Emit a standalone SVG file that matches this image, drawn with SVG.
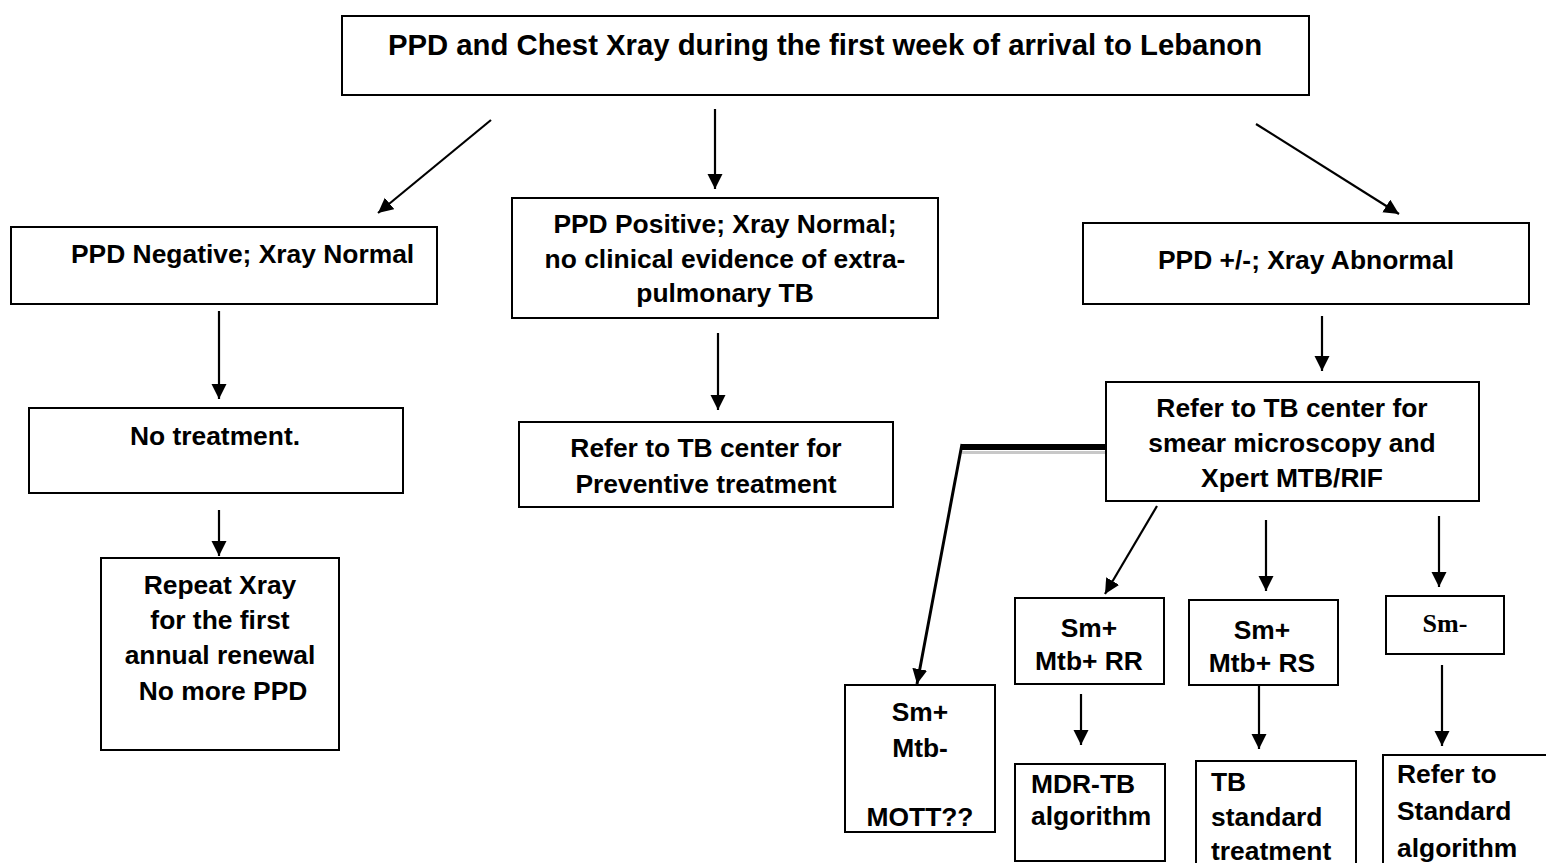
<svg xmlns="http://www.w3.org/2000/svg" width="1546" height="863" viewBox="0 0 1546 863">
<style>
.box{fill:#fff;stroke:#000;stroke-width:2}
.t{font-family:"Liberation Sans",Arial,sans-serif;font-weight:bold;font-size:26.4px;fill:#000}
.c{text-anchor:middle}
.ser{font-family:"Liberation Serif","Times New Roman",serif;font-weight:bold;font-size:26px;fill:#000;text-anchor:middle}
.ar{stroke:#000;stroke-width:2.2;fill:none;marker-end:url(#ah)}
</style>
<defs>
<marker id="ah" markerUnits="userSpaceOnUse" markerWidth="16" markerHeight="16" refX="15" refY="7.5" orient="auto">
<path d="M0,0 L15,7.5 L0,15 z" fill="#000"/>
</marker>
</defs>
<rect width="1546" height="863" fill="#fff"/>

<g id="connectors">
<line class="ar" x1="491" y1="120" x2="378" y2="213"/>
<line class="ar" x1="715" y1="109" x2="715" y2="189"/>
<line class="ar" x1="1256" y1="124" x2="1399" y2="214"/>
<line class="ar" x1="219" y1="311" x2="219" y2="399"/>
<line class="ar" x1="718" y1="333" x2="718" y2="410"/>
<line class="ar" x1="1322" y1="316" x2="1322" y2="371"/>
<line class="ar" x1="219" y1="510" x2="219" y2="556"/>
<line class="ar" x1="1157" y1="506" x2="1105" y2="594"/>
<line class="ar" x1="1266" y1="520" x2="1266" y2="591"/>
<line class="ar" x1="1439" y1="516" x2="1439" y2="587"/>
<line class="ar" x1="1081" y1="694" x2="1081" y2="745"/>
<line class="ar" x1="1259" y1="685" x2="1259" y2="749"/>
<line class="ar" x1="1442" y1="665" x2="1442" y2="746"/>
<line x1="962" y1="452.5" x2="1105" y2="452.5" stroke="#c8c8c8" stroke-width="3"/>
<line x1="961" y1="447" x2="1106" y2="447" stroke="#000" stroke-width="6"/>
<line class="ar" x1="962" y1="444" x2="917" y2="684" style="stroke-width:3"/>
</g>

<g id="n-top">
<rect class="box" x="342" y="16" width="967" height="79"/>
<text class="t c" x="825" y="55" style="font-size:29.3px">PPD and Chest Xray during the first week of arrival to Lebanon</text>
</g>

<g id="n-neg">
<rect class="box" x="11" y="227" width="426" height="77"/>
<text class="t" x="71" y="263">PPD Negative; Xray Normal</text>
</g>

<g id="n-pos">
<rect class="box" x="512" y="198" width="426" height="120"/>
<text class="t c" x="725" y="233">PPD Positive; Xray Normal;</text>
<text class="t c" x="725" y="268">no clinical evidence of extra-</text>
<text class="t c" x="725" y="302">pulmonary TB</text>
</g>

<g id="n-abn">
<rect class="box" x="1083" y="223" width="446" height="81"/>
<text class="t c" x="1306" y="269">PPD +/-; Xray Abnormal</text>
</g>

<g id="n-notreat">
<rect class="box" x="29" y="408" width="374" height="85"/>
<text class="t c" x="215" y="445">No treatment.</text>
</g>

<g id="n-prev">
<rect class="box" x="519" y="422" width="374" height="85"/>
<text class="t c" x="706" y="457">Refer to TB center for</text>
<text class="t c" x="706" y="493">Preventive treatment</text>
</g>

<g id="n-smear">
<rect class="box" x="1106" y="382" width="373" height="119"/>
<text class="t c" x="1292" y="417">Refer to TB center for</text>
<text class="t c" x="1292" y="452">smear microscopy and</text>
<text class="t c" x="1292" y="487">Xpert MTB/RIF</text>
</g>

<g id="n-repeat">
<rect class="box" x="101" y="558" width="238" height="192"/>
<text class="t c" x="220" y="594">Repeat Xray</text>
<text class="t c" x="220" y="629">for the first</text>
<text class="t c" x="220" y="664">annual renewal</text>
<text class="t c" x="223" y="700">No more PPD</text>
</g>

<g id="n-mott">
<rect class="box" x="845" y="685" width="150" height="147"/>
<text class="t c" x="920" y="721">Sm+</text>
<text class="t c" x="920" y="757">Mtb-</text>
<text class="t c" x="920" y="826">MOTT??</text>
</g>

<g id="n-rr">
<rect class="box" x="1015" y="598" width="149" height="86"/>
<text class="t c" x="1089" y="637">Sm+</text>
<text class="t c" x="1089" y="670">Mtb+ RR</text>
</g>

<g id="n-rs">
<rect class="box" x="1189" y="600" width="149" height="85"/>
<text class="t c" x="1262" y="639">Sm+</text>
<text class="t c" x="1262" y="672">Mtb+ RS</text>
</g>

<g id="n-smneg">
<rect class="box" x="1386" y="596" width="118" height="58"/>
<text class="ser" x="1445" y="632">Sm-</text>
</g>

<g id="n-mdr">
<rect class="box" x="1015" y="764" width="150" height="97"/>
<text class="t" x="1031" y="793">MDR-TB</text>
<text class="t" x="1031" y="825">algorithm</text>
</g>

<g id="n-std">
<rect class="box" x="1196" y="761" width="160" height="110"/>
<text class="t" x="1211" y="791">TB</text>
<text class="t" x="1211" y="826">standard</text>
<text class="t" x="1211" y="860">treatment</text>
</g>

<g id="n-refstd">
<rect class="box" x="1383" y="755" width="170" height="120"/>
<text class="t" x="1397" y="783">Refer to</text>
<text class="t" x="1397" y="820">Standard</text>
<text class="t" x="1397" y="857">algorithm</text>
</g>
</svg>
